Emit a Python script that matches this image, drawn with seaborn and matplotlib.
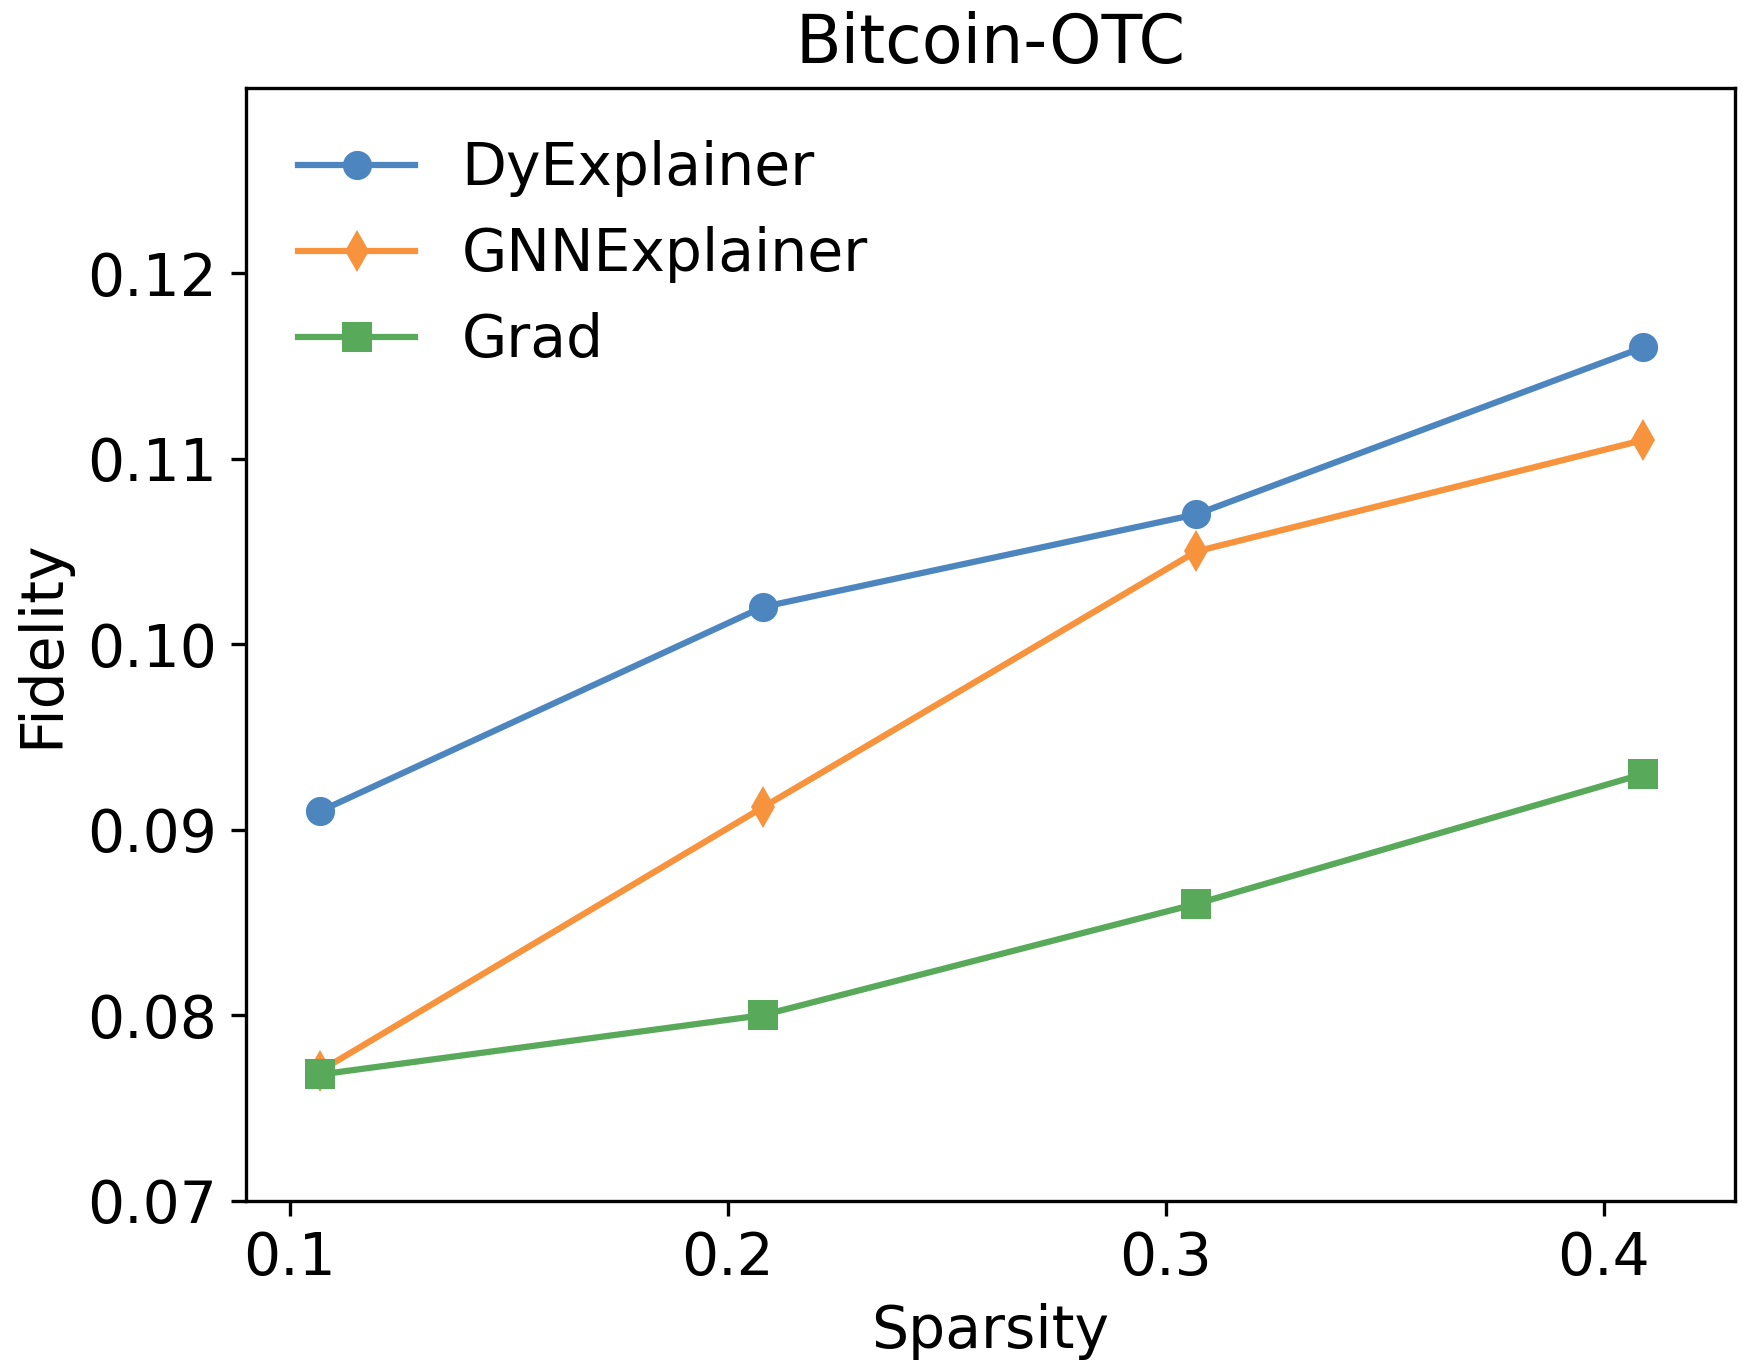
import pandas as pd
import matplotlib
matplotlib.use('Agg')
import matplotlib.pyplot as plt
import seaborn as sns

# valores
sparsity = [0.107, 0.208, 0.307, 0.409]
dyexplainer = [0.091, 0.102, 0.107, 0.116]
gnnexplainer = [0.077, 0.0912, 0.105, 0.111]
grad = [0.0768, 0.080, 0.086, 0.093]

metodos = ['DyExplainer', 'GNNExplainer', 'Grad']
cores = {'DyExplainer': '#4d86be', 'GNNExplainer': '#f7923d', 'Grad': '#58aa5a'}
marcadores = {'DyExplainer': 'o', 'GNNExplainer': 'd', 'Grad': 's'}

df = pd.DataFrame({
    'Sparsity': sparsity * 3,
    'Fidelity': dyexplainer + gnnexplainer + grad,
    'Method': [m for m in metodos for _ in sparsity],
})

fig, ax = plt.subplots(figsize=(1744 / 300, 1369 / 300), dpi=300)
sns.lineplot(data=df, x='Sparsity', y='Fidelity', hue='Method', style='Method',
             hue_order=metodos, style_order=metodos, palette=cores,
             markers=marcadores, dashes=False, linewidth=1.5, markersize=7,
             markeredgewidth=0, ax=ax)

ax.set_xlim(0.09, 0.43)
ax.set_ylim(0.07, 0.13)
ax.set_xticks([0.1, 0.2, 0.3, 0.4])
ax.set_yticks([0.07, 0.08, 0.09, 0.10, 0.11, 0.12])
ax.set_yticklabels(['0.07', '0.08', '0.09', '0.10', '0.11', '0.12'])
ax.tick_params(labelsize=14)
ax.set_xlabel('Sparsity', fontsize=14)
ax.set_ylabel('Fidelity', fontsize=14)
ax.set_title('Bitcoin-OTC', fontsize=16)
ax.legend(loc='upper left', frameon=False, fontsize=14, labelspacing=0.5)

fig.subplots_adjust(left=0.141, right=0.995, bottom=0.123, top=0.936)
plt.savefig('out.png', dpi=300)
plt.close()
